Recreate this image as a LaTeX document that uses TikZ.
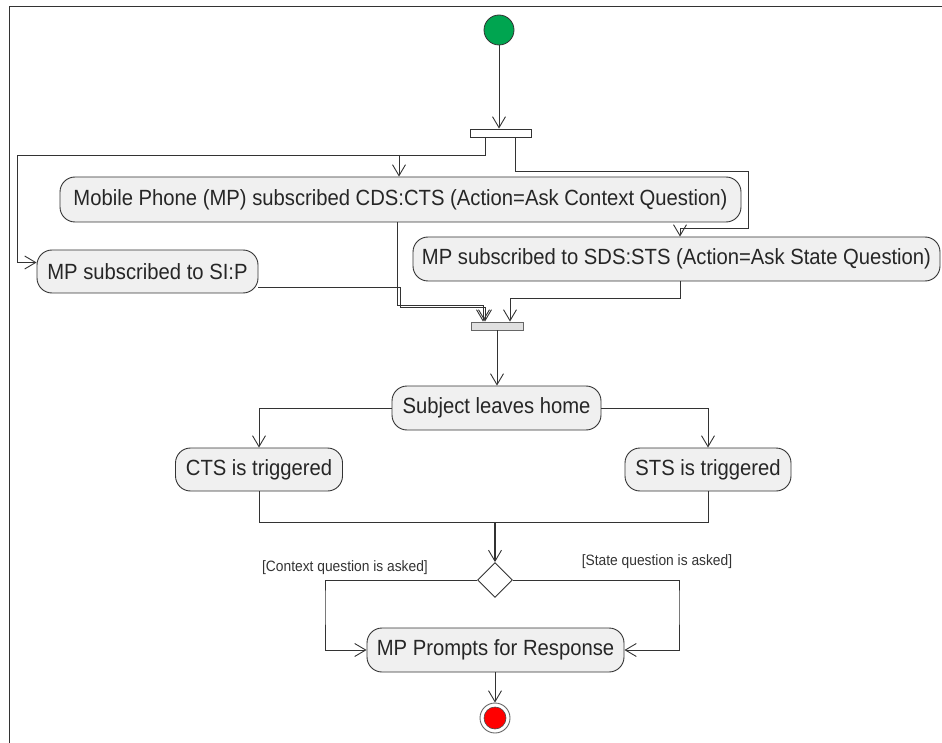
\documentclass[tikz,border=0pt]{standalone}
\usepackage{fontspec}
\setmainfont{Liberation Sans}[FakeStretch=0.92]
\usetikzlibrary{arrows.meta,shapes.geometric}
\definecolor{linec}{HTML}{333333}
\definecolor{boxfill}{HTML}{F0F0F0}
\definecolor{startgreen}{HTML}{00A550}
\tikzset{
  act/.style={draw=linec, fill=boxfill, rounded corners=15pt, line width=0.9pt,
    inner sep=0pt, font=\fontsize{22}{24}\selectfont, text=black!85},
  flow/.style={draw=linec, line width=0.9pt,
    -{Straight Barb[length=11pt,width=13pt,line width=0.9pt]}},
  plain/.style={draw=linec, line width=0.9pt},
  forkbar/.style={draw=linec, fill=white, line width=0.9pt, inner sep=0pt},
  joinbar/.style={draw=black!60, fill=black!12, line width=0.9pt, inner sep=0pt},
  guard/.style={font=\fontsize{15}{17}\selectfont, text=black!80},
}
\begin{document}
\begin{tikzpicture}[x=1pt,y=-1pt]
\useasboundingbox (0,0) rectangle (942,743);
% frame
\draw[linec, line width=0.9pt] (9,743) -- (9,6) -- (942,6);

% start and fork
\node[circle, fill=startgreen, draw=linec, minimum size=30pt, inner sep=0pt, line width=0.8pt] (start) at (499,30) {};
\node[forkbar, minimum width=61pt, minimum height=8pt] (fork) at (500.5,133) {};

% actions
\node[act, minimum width=681pt, minimum height=45pt] (cds) at (400.5,199.5) {Mobile Phone (MP) subscribed CDS:CTS (Action=Ask Context Question)};
\node[act, minimum width=527pt, minimum height=44pt] (sds) at (676.5,259) {MP subscribed to SDS:STS (Action=Ask State Question)};
\node[act, minimum width=221pt, minimum height=43pt] (sip) at (147.5,271.5) {MP subscribed to SI:P};
\node[joinbar, minimum width=52pt, minimum height=8pt] (join) at (497,326) {};
\node[act, minimum width=209pt, minimum height=44pt] (leave) at (496.5,408) {Subject leaves home};
\node[act, minimum width=167pt, minimum height=43pt] (cts) at (259,469.5) {CTS is triggered};
\node[act, minimum width=166pt, minimum height=43pt] (sts) at (708,469.5) {STS is triggered};
\node[diamond, draw=linec, fill=white, line width=0.9pt, minimum width=35pt, minimum height=35pt, inner sep=0pt] (dec) at (495,580) {};
\node[act, minimum width=257pt, minimum height=44pt] (prompt) at (495.5,650) {MP Prompts for Response};
\node[circle, draw=black!60, fill=white, minimum size=30pt, inner sep=0pt, line width=0.9pt] (stop) at (495,718) {};
\fill[red, draw=black!70, line width=0.6pt] (stop.center) circle (11);

% guards
\node[guard] (gctx) at (345,568) {[Context question is asked]};
\node[guard] (gsta) at (657,562) {[State question is asked]};

% routing points
\coordinate (f1) at (485,155);
\coordinate (f1l) at (17,155);
\coordinate (b1) at (399,155);
\coordinate (f2) at (748,171);
\coordinate (f2d) at (748,228);
\coordinate (s2) at (680,0);
\coordinate (j1) at (483,305);
\coordinate (j2) at (485,307);
\coordinate (j3) at (510,298);
\coordinate (m1) at (495,522);
\coordinate (dl) at (325,600);
\coordinate (dr) at (679,600);

% fork to actions
\draw[flow] (start) -- (start |- fork.north);
\draw[flow] ([xshift=-15.5pt]fork.south) |- (f1l) |- ([yshift=9pt]sip.west);
\draw[flow] (b1) -- (b1 |- cds.north);
\draw[flow] ([xshift=14.5pt]fork.south) |- (f2) -- (f2d) -| (s2 |- sds.north);

% actions to join
\draw[flow] (cds.south -| 397,0) |- (j1) -- (j1 |- join.north);
\draw[flow] ([yshift=-15.5pt]sip.east) -| (400,307) -- (j2) -- (j2 |- join.north);
\draw[flow] (s2 |- sds.south) |- (j3) -- (j3 |- join.north);

% join to decision
\draw[flow] (join.south) -- (join.south |- leave.north);
\draw[flow] (leave.west) -| (cts.north);
\draw[flow] (leave.east) -| (sts.north);
\draw[plain] (cts.south) |- (m1);
\draw[plain] (sts.south) |- (m1);
\draw[flow, line width=1.3pt] (m1) -- (dec.north);

% decision to prompt
\draw[flow] (dec.west) -| (dl) |- (prompt.west);
\draw[flow] (dec.east) -| (dr) |- (prompt.east);
\draw[flow] (prompt.south -| stop.north) -- (stop.north);
\end{tikzpicture}
\end{document}
